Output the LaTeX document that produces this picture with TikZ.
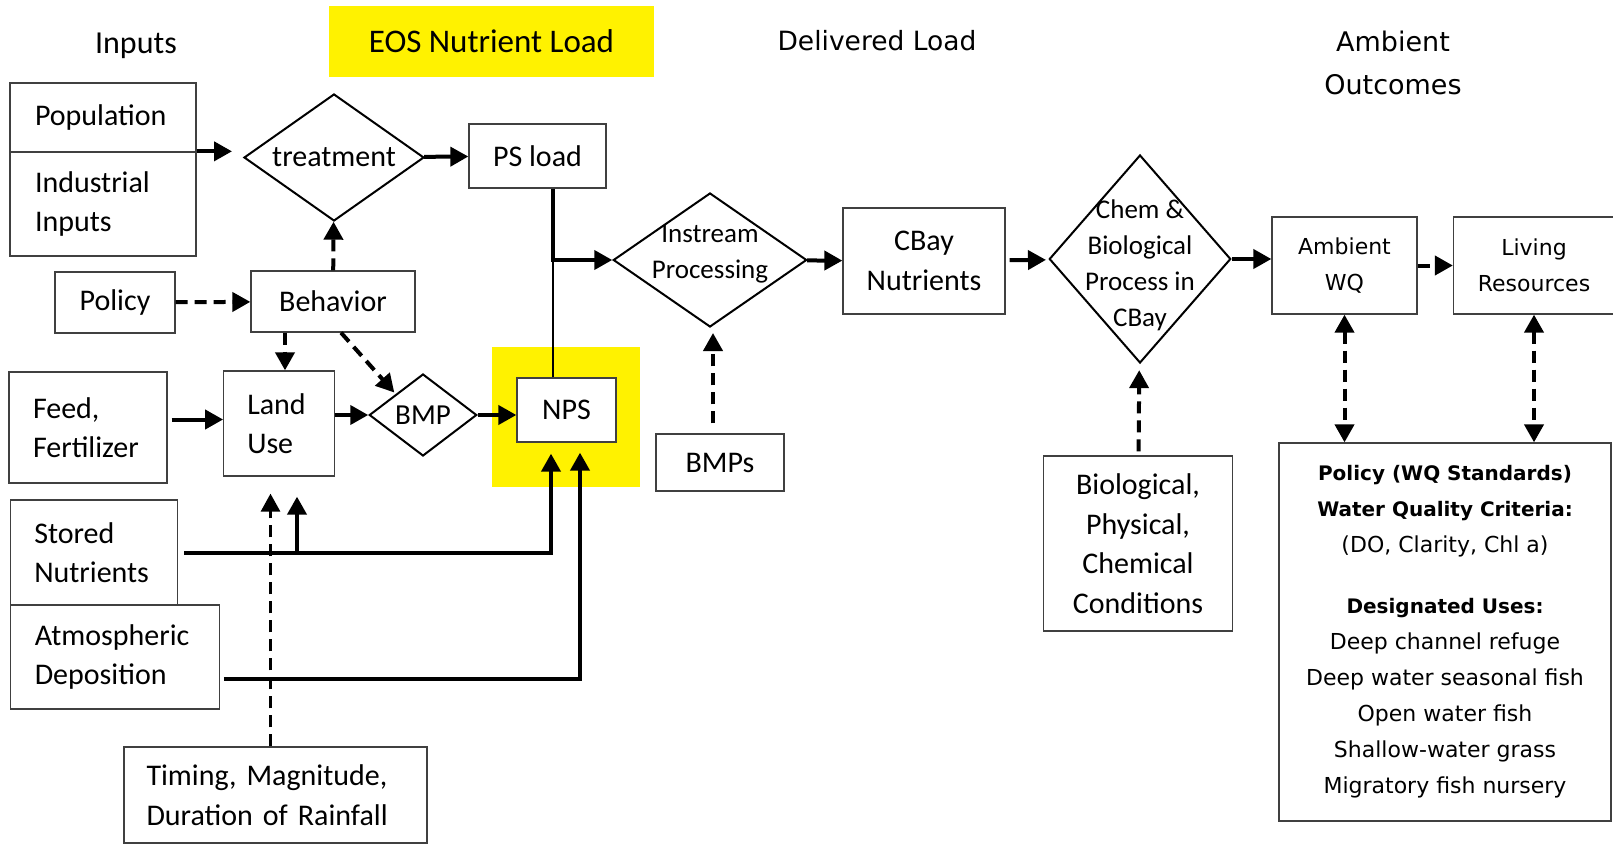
\documentclass[tikz,border=0pt]{standalone}
\usepackage{fontspec}
\setmainfont{Carlito}
\newfontfamily\dvfont{DejaVu Sans}
\usetikzlibrary{arrows.meta,shapes.geometric}

\begin{document}
\begin{tikzpicture}[x=1pt, y=-1pt]
    \tikzstyle{flow box} = [rectangle, draw=black!75, line width=1.3pt, fill=white, inner sep=0pt, align=center, font=\fontsize{30}{39.5}\selectfont]
    \tikzstyle{flow box left} = [flow box, align=left, inner xsep=24pt]
    \tikzstyle{flow box wide} = [flow box, font=\dvfont\fontsize{22}{36}\selectfont]
    \tikzstyle{flow diamond} = [diamond, draw=black, line width=2pt, inner sep=0pt, fill=white]
    \tikzstyle{diamond text} = [align=center, inner sep=0pt, font=\fontsize{27}{36}\selectfont]
    \tikzstyle{highlight} = [fill=yellow, inner sep=0pt]
    \tikzstyle{flow edge} = [draw=black, line width=4pt, >={Triangle[length=18pt, width=19pt]}, ->]
    \tikzstyle{flow edge dashed} = [flow edge, dash pattern=on 12pt off 7pt]
    \tikzstyle{flow edge both} = [flow edge dashed, <->]
    \tikzstyle{flow edge thin} = [draw=black, line width=1.5pt]
\useasboundingbox (0,0) rectangle (1613,850);
\clip (0,0) rectangle (1613,850);
\node[font=\fontsize{32}{38}\selectfont] (inputs) at (136,46) {Inputs};
\node[highlight, minimum width=325pt, minimum height=71pt, font=\fontsize{33}{38}\selectfont] (eos) at (491.5,41.5) {EOS Nutrient Load};
\node[font=\dvfont\fontsize{26.5}{43}\selectfont] (delivered) at (877,41) {Delivered Load};
\node[font=\dvfont\fontsize{27}{43}\selectfont, align=center] (outcomes) at (1393,62.5) {Ambient\\Outcomes};
\node[highlight, minimum width=148pt, minimum height=140pt] (npsbg) at (566,417) {};
\node[flow box left, text width=136pt, inner xsep=25pt, minimum height=69pt] (pop) at (103,117.5) {Population};
\node[flow box left, text width=136pt, inner xsep=25pt, minimum height=104pt] (ind) at (103,204) {Industrial\\Inputs};
\node[flow box left, text width=110pt, minimum height=111pt] (feed) at (88,427.5) {Feed,\\Fertilizer};
\node[flow box left, text width=119.5pt, minimum height=105pt] (stored) at (94,552.5) {Stored\\Nutrients};
\node[flow box left, text width=160.5pt, minimum height=104pt] (atmo) at (115,657) {Atmospheric\\Deposition};
\node[flow box left, text width=63.5pt, inner xsep=23.5pt, minimum height=105pt] (landuse) at (279,423.5) {Land\\Use};
\node[flow box left, text width=258pt, inner xsep=22.5pt, minimum height=96pt] (timing) at (275.5,795) {Timing, Magnitude,\\Duration of Rainfall};
\node[flow box, minimum width=120pt, minimum height=61pt] (policy) at (115,302.5) {Policy};
\node[flow box, minimum width=164pt, minimum height=61pt] (behavior) at (333,301.5) {Behavior};
\node[flow box, minimum width=137pt, minimum height=64pt] (psload) at (537.5,156) {PS load};
\node[flow box, minimum width=99pt, minimum height=64pt] (nps) at (566.5,410) {NPS};
\node[flow box, minimum width=128pt, minimum height=57pt] (bmps) at (720,462.5) {BMPs};
\node[flow box, minimum width=162pt, minimum height=106pt] (cbay) at (924,261) {CBay\\Nutrients};
\node[flow box, minimum width=188.5pt, minimum height=175pt] (bio) at (1138,543.5) {Biological,\\Physical,\\Chemical\\Conditions};
\node[flow box wide, minimum width=145pt, minimum height=97pt] (awq) at (1344.5,265.5) {Ambient\\WQ};
\node[flow box wide, minimum width=161pt, minimum height=97pt] (living) at (1534,265.5) {Living\\Resources};
\node[flow box wide, minimum width=332pt, minimum height=378pt] (standards) at (1445,632) {\textbf{\fontsize{20}{36}\selectfont Policy (WQ Standards)}\\
    \textbf{\fontsize{20}{36}\selectfont Water Quality Criteria:}\\
    (DO, Clarity, Chl a)\\[25pt]
    \textbf{\fontsize{20}{36}\selectfont Designated Uses:}\\
    Deep channel refuge\\
    Deep water seasonal fish\\
    Open water fish\\
    Shallow-water grass\\
    Migratory fish nursery};
\node[flow diamond, minimum width=180pt, minimum height=127pt, label={[diamond text, font=\fontsize{30}{36}\selectfont]center:treatment}] (treat) at (334,157.5) {};
\node[flow diamond, minimum width=107.5pt, minimum height=82pt, label={[diamond text, font=\fontsize{29}{36}\selectfont]center:BMP}] (bmp) at (423,415) {};
\node[flow diamond, minimum width=193.5pt, minimum height=134pt, label={[diamond text, yshift=6pt]center:Instream\\Processing}] (instream) at (710,260) {};
\node[flow diamond, minimum width=181.5pt, minimum height=208pt, label={[diamond text, yshift=-6pt]center:Chem \&\\Biological\\Process in\\CBay}] (chem) at (1140,259) {};
\coordinate (junction) at (553,260);
\coordinate (fork) at (297,552.5);
\draw[flow edge, shorten >=11pt] (ind.north east) -- (ind.north east -| treat.west);
\draw[flow edge] (treat) -- (psload);
\draw[flow edge dashed] (policy) -- (behavior);
\draw[flow edge dashed] (behavior) -- (treat);
\draw[flow edge dashed] ([xshift=6pt]landuse.north |- behavior.south) -- ([xshift=6pt]landuse.north);
\draw[flow edge dashed, shorten >=2pt] ([xshift=8pt]behavior.south) -- (bmp.north west);
\draw[flow edge, shorten <=4pt] ([yshift=8pt]feed.east) -- ([yshift=8pt]feed.east -| landuse.west);
\draw[flow edge] (landuse.east |- bmp.west) -- (bmp.west);
\draw[flow edge] (bmp.east) -- (bmp.east -| nps.west);
\draw[flow edge] (psload.south -| junction) -- (junction) -- (instream.west);
\draw[flow edge thin] (nps.north -| junction) -- (junction);
\draw[flow edge, shorten <=6pt, shorten >=11pt] (stored.east) -| ([xshift=-15.5pt]nps.south);
\draw[flow edge, shorten >=20pt] (fork) -- (fork |- landuse.south);
\draw[flow edge, shorten <=4pt, shorten >=10pt] ([yshift=-22pt]atmo.east) -| ([xshift=13.5pt]nps.south);
\draw[flow edge dashed, line width=3pt, shorten >=17pt] ([xshift=-5pt]timing.north) -- ([xshift=-5pt]timing.north |- landuse.south);
\draw[flow edge dashed, shorten <=10pt, shorten >=5pt] ([xshift=-7pt]bmps.north) -- ([xshift=-7pt]bmps.north |- instream.south);
\draw[flow edge] (instream) -- (cbay);
\draw[flow edge, shorten <=4pt, shorten >=3pt] (cbay) -- (chem);
\draw[flow edge dashed, shorten <=4pt, shorten >=7pt] (bio) -- (chem);
\draw[flow edge] (chem.east) -- (chem.east -| awq.west);
\draw[flow edge dashed] (awq) -- (living);
\draw[flow edge both] (awq.south) -- (awq.south |- standards.north);
\draw[flow edge both] (living.south) -- (living.south |- standards.north);
\end{tikzpicture}
\end{document}
